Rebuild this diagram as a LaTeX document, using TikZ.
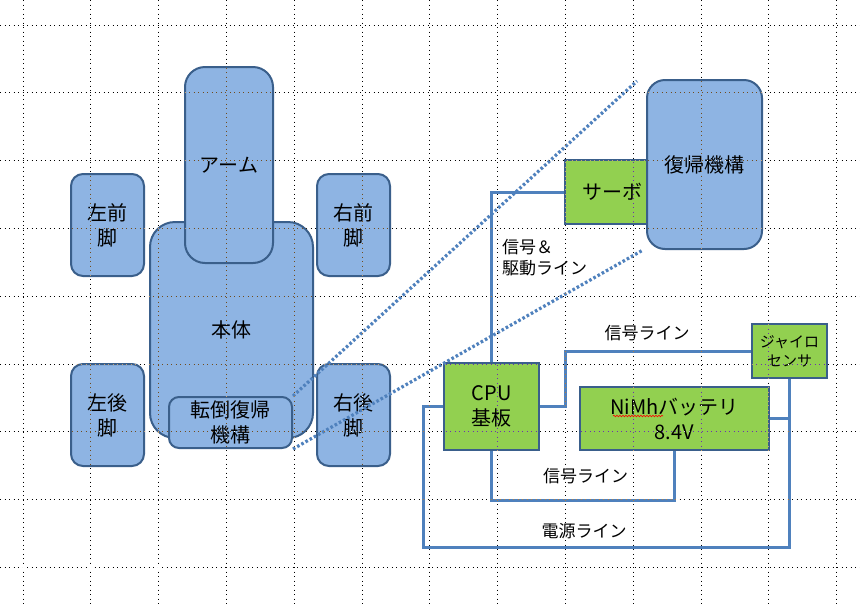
\documentclass[tikz,border=0pt]{standalone}
\usepackage{fontspec}
\setmainfont{Noto Sans CJK JP}
\usetikzlibrary{decorations.pathmorphing}
\definecolor{bl}{HTML}{8EB4E3}
\definecolor{gr}{HTML}{92D050}
\definecolor{bd}{HTML}{3A5F8B}
\definecolor{wc}{HTML}{4F81BD}
\begin{document}
\begin{tikzpicture}[x=1pt,y=-1pt,
 bbox/.style={draw=bd, fill=bl, line width=2pt, inner sep=0pt, align=center, font=\fontsize{20}{25}\selectfont},
 gbox/.style={draw=bd, fill=gr, line width=2pt, inner sep=0pt, align=center, font=\fontsize{20}{25}\selectfont},
 wire/.style={draw=wc, line width=3pt},
 dotln/.style={draw=wc, line width=3.2pt, dash pattern=on 2.6pt off 2.2pt},
 lbl/.style={inner sep=0pt, font=\fontsize{17}{21}\selectfont, align=left},
 gridln/.style={white, line width=1pt, dash pattern=on 1pt off 3.5pt}]
\fill[white] (0,0) rectangle (860,606);
\useasboundingbox (0,0) rectangle (860,606);
% left robot
\node[bbox, rounded corners=25pt, minimum width=163pt, minimum height=216pt] (body) at (231.5,330) {本体};
\node[bbox, rounded corners=20pt, minimum width=88pt, minimum height=196pt] (arm) at (229,165) {アーム};
\node[bbox, rounded corners=12pt, minimum width=73pt, minimum height=102pt] (lf) at (107.5,225) {左前\\脚};
\node[bbox, rounded corners=12pt, minimum width=73pt, minimum height=102pt] (rf) at (353.5,225) {右前\\脚};
\node[bbox, rounded corners=12pt, minimum width=73pt, minimum height=102pt] (lb) at (107.5,415) {左後\\脚};
\node[bbox, rounded corners=12pt, minimum width=73pt, minimum height=102pt] (rb) at (353.5,415) {右後\\脚};
\node[bbox, rounded corners=10pt, minimum width=123pt, minimum height=51pt] (tento) at (230.5,422.5) {転倒復帰\\機構};
% right detail
\node[gbox, minimum width=94pt, minimum height=64pt] (servo) at (612,192) {サーボ};
\node[bbox, rounded corners=18pt, minimum width=115pt, minimum height=169pt] (fukki) at (704.5,164.5) {復帰機構};
\node[gbox, minimum width=95pt, minimum height=87pt] (cpu) at (491.5,406.5) {CPU\\基板};
\node[gbox, minimum width=189pt, minimum height=63pt] (batt) at (674.5,418.5) {NiMhバッテリ\\8.4V};
\node[gbox, minimum width=75pt, minimum height=54pt, font=\fontsize{15}{19}\selectfont] (gyro) at (789.5,351) {ジャイロ\\センサ};
\draw[red, line width=0.6pt, decorate, decoration={snake, amplitude=0.8pt, segment length=3pt}] (613,416) -- (663,416);
% wires
\coordinate (pc) at (789.5,547);
\coordinate (pl) at (423,547);
\draw[wire] (cpu.north) |- (servo.west);
\draw[wire] (cpu.east) -- ++(25,0) |- (gyro.west);
\draw[wire] (cpu.south) -- (cpu.south |- 0,500) -| (batt.south);
\draw[wire] (batt.east) -| (pc) -- (pl) |- (cpu.west);
\draw[wire] (gyro.south) -- (gyro.south |- batt.east);
% labels
\node[lbl, anchor=west] (l1) at (502,258) {信号＆\\駆動ライン};
\node[lbl] (l2) at (647,333) {信号ライン};
\node[lbl] (l3) at (585.5,476) {信号ライン};
\node[lbl] (l4) at (584,531) {電源ライン};
% zoom lines
\coordinate (z1) at (637,81);
\coordinate (z2) at (643,250);
\draw[dotln] (tento.north east) -- (z1);
\draw[dotln] (tento.south east) -- (z2);
% grid
\begin{scope}[blend mode=difference]
\foreach \i in {0,...,12} \draw[gridln] (23+67.8*\i,0) -- (23+67.8*\i,606);
\foreach \j in {0,...,8} \draw[gridln] (0,25+67.8*\j) -- (860,25+67.8*\j);
\end{scope}
\end{tikzpicture}
\end{document}
